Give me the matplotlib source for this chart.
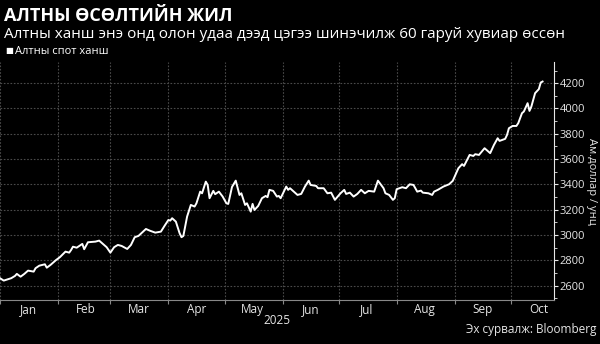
import matplotlib
matplotlib.use("Agg")
import matplotlib.pyplot as plt
import matplotlib.dates as mdates
from matplotlib.ticker import MultipleLocator, NullFormatter
import pandas as pd

plt.rcParams['font.family'] = ['Open Sans', 'DejaVu Sans']

# gold spot price, USD per ounce
dates = [
    "2025-01-01", "2025-01-03", "2025-01-07", "2025-01-09", "2025-01-10", "2025-01-12",
    "2025-01-14", "2025-01-16", "2025-01-19", "2025-01-20", "2025-01-22", "2025-01-25",
    "2025-01-26", "2025-01-28", "2025-01-30", "2025-01-31",
    "2025-02-02", "2025-02-05", "2025-02-07", "2025-02-08", "2025-02-09", "2025-02-11",
    "2025-02-14", "2025-02-15", "2025-02-17", "2025-02-21", "2025-02-23", "2025-02-25",
    "2025-02-27", "2025-03-01",
    "2025-03-03", "2025-03-05", "2025-03-07", "2025-03-10", "2025-03-12", "2025-03-14",
    "2025-03-16", "2025-03-20", "2025-03-22", "2025-03-25", "2025-03-28", "2025-03-30",
    "2025-04-01", "2025-04-02", "2025-04-03", "2025-04-05", "2025-04-07", "2025-04-08",
    "2025-04-09", "2025-04-11", "2025-04-13", "2025-04-15", "2025-04-16", "2025-04-18",
    "2025-04-19", "2025-04-21", "2025-04-22", "2025-04-23", "2025-04-25", "2025-04-26",
    "2025-04-28", "2025-04-30",
    "2025-05-02", "2025-05-03", "2025-05-05", "2025-05-07", "2025-05-09", "2025-05-10",
    "2025-05-12", "2025-05-13", "2025-05-15", "2025-05-16", "2025-05-17", "2025-05-19",
    "2025-05-21", "2025-05-23", "2025-05-24", "2025-05-25", "2025-05-27", "2025-05-29",
    "2025-05-30", "2025-05-31",
    "2025-06-03", "2025-06-04", "2025-06-05", "2025-06-07", "2025-06-09", "2025-06-11",
    "2025-06-13", "2025-06-15", "2025-06-16", "2025-06-19", "2025-06-20", "2025-06-23",
    "2025-06-25", "2025-06-27", "2025-06-29",
    "2025-07-02", "2025-07-04", "2025-07-05", "2025-07-07", "2025-07-09", "2025-07-11",
    "2025-07-13", "2025-07-15", "2025-07-17", "2025-07-20", "2025-07-22", "2025-07-25",
    "2025-07-26", "2025-07-28", "2025-07-30", "2025-07-31",
    "2025-08-01", "2025-08-04", "2025-08-06", "2025-08-08", "2025-08-10", "2025-08-12",
    "2025-08-14", "2025-08-15", "2025-08-18", "2025-08-20", "2025-08-21", "2025-08-23",
    "2025-08-26", "2025-08-29", "2025-08-31",
    "2025-09-01", "2025-09-03", "2025-09-05", "2025-09-06", "2025-09-09", "2025-09-11",
    "2025-09-12", "2025-09-14", "2025-09-17", "2025-09-18", "2025-09-20", "2025-09-22",
    "2025-09-24", "2025-09-25", "2025-09-28", "2025-09-29", "2025-09-30",
    "2025-10-02", "2025-10-04", "2025-10-05", "2025-10-07", "2025-10-08", "2025-10-10",
    "2025-10-11", "2025-10-12", "2025-10-14", "2025-10-16", "2025-10-17", "2025-10-18",
]
prices = [
    2659, 2640, 2659, 2677, 2693, 2671,
    2693, 2719, 2711, 2738, 2758, 2769,
    2742, 2764, 2790, 2803,
    2825, 2869, 2861, 2882, 2908, 2900,
    2930, 2888, 2943, 2948, 2956, 2930,
    2904, 2861,
    2904, 2922, 2914, 2890, 2922, 2983,
    2993, 3048, 3035, 3019, 3027, 3074,
    3119, 3114, 3133, 3106, 3014, 2983,
    2993, 3146, 3238, 3225, 3251, 3343,
    3330, 3422, 3396, 3291, 3349, 3323,
    3343, 3304,
    3251, 3246, 3380, 3430, 3317, 3330,
    3238, 3251, 3185, 3246, 3198, 3230,
    3291, 3309, 3299, 3357, 3349, 3304,
    3309, 3291,
    3383, 3357, 3370, 3343, 3317, 3325,
    3383, 3430, 3396, 3388, 3370, 3370,
    3330, 3335, 3278,
    3330, 3357, 3325, 3335, 3304, 3325,
    3357, 3330, 3349, 3343, 3430, 3370,
    3330, 3317, 3278, 3291,
    3362, 3378, 3370, 3401, 3396, 3343,
    3351, 3335, 3330, 3317, 3343, 3357,
    3383, 3401, 3428,
    3462, 3528, 3560, 3546, 3633, 3625,
    3639, 3633, 3686, 3673, 3647, 3712,
    3765, 3744, 3760, 3791, 3844,
    3862, 3862, 3884, 3963, 3976, 4042,
    3981, 4015, 4121, 4153, 4205, 4213,
]
y_ticks = [2600, 2800, 3000, 3200, 3400, 3600, 3800, 4000, 4200]

title = "АЛТНЫ ӨСӨЛТИЙН ЖИЛ"
subtitle = "Алтны ханш энэ онд олон удаа дээд цэгээ шинэчилж 60 гаруй хувиар өссөн"
legend_label = "Алтны спот ханш"
y_label = "Ам.доллар / унц"
source = "Эх сурвалж: Bloomberg"

x = pd.to_datetime(dates)
fg = "#e6e6e6"
grid_c = "#4a4a4a"

fig = plt.figure(figsize=(6, 3.44), dpi=100, facecolor="black")
ax = fig.add_axes([0.0, 0.128, 0.923, 0.692], facecolor="black")
ax.plot(x, prices, color="white", lw=1.4)

ax.set_xlim(pd.Timestamp("2025-01-01"), pd.Timestamp("2025-10-24"))
ax.set_ylim(2487, 4368)

ax.yaxis.tick_right()
ax.set_yticks(y_ticks)
ax.yaxis.set_minor_locator(MultipleLocator(100))
ax.tick_params(axis="y", which="major", colors=fg, labelsize=8, length=3, width=0.8, pad=1)
ax.tick_params(axis="y", which="minor", colors=fg, length=2, width=0.6)

ax.xaxis.set_major_locator(mdates.MonthLocator(bymonthday=1))
ax.xaxis.set_major_formatter(NullFormatter())
ax.xaxis.set_minor_locator(mdates.MonthLocator(bymonthday=16))
ax.xaxis.set_minor_formatter(mdates.DateFormatter("%b"))
ax.tick_params(axis="x", which="major", colors="#888888", length=3, width=0.8)
ax.tick_params(axis="x", which="minor", colors=fg, length=0, labelsize=8.5, pad=2)

ax.grid(True, which="major", color=grid_c, lw=0.8, ls=(0, (1.5, 1.5)))

for s in ["top", "left"]:
    ax.spines[s].set_visible(False)
ax.spines["right"].set_color(fg)
ax.spines["bottom"].set_color("#888888")

fig.text(592/600, 1 - 181/344, y_label, rotation=270, color=fg, fontsize=8,
         va="center", ha="center")

fig.text(4/600, 1 - 16/344, title, color="white", fontsize=13, fontweight="bold", va="center", ha="left")
fig.text(4/600, 1 - 34/344, subtitle, color="white", fontsize=11, va="center", ha="left")
fig.text(5/600, 1 - 52/344, "■", color="white", fontsize=6, va="center", ha="left")
fig.text(15/600, 1 - 52/344, legend_label, color="white", fontsize=8, va="center", ha="left")
fig.text(277/600, 1 - 321/344, "2025", color=fg, fontsize=8.5, va="center", ha="center")
fig.text(596/600, 1 - 329/344, source, color=fg, fontsize=8.5, va="center", ha="right")

fig.savefig("out.png", dpi=100, facecolor="black")
